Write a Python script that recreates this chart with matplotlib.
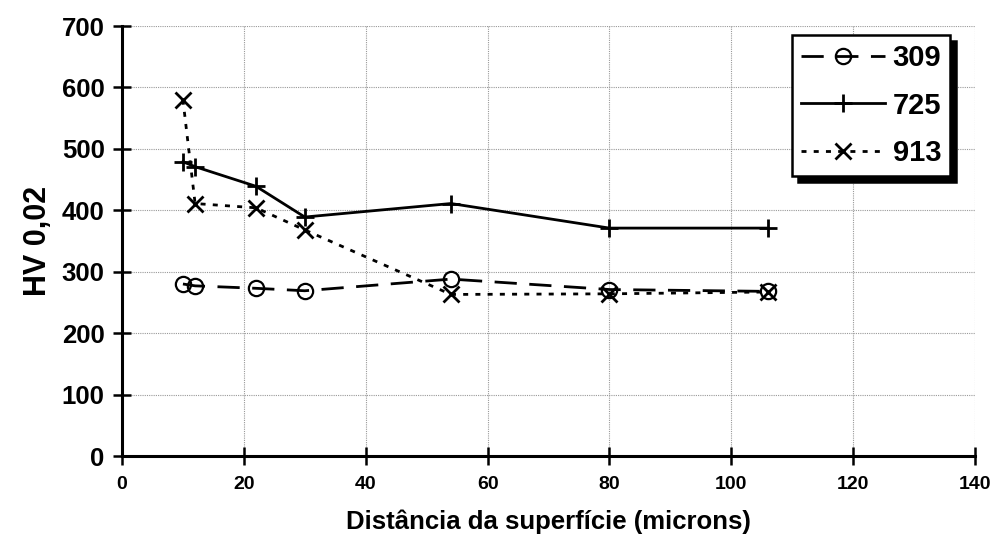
import matplotlib
matplotlib.use("Agg")
import matplotlib.pyplot as plt
from matplotlib.ticker import MultipleLocator

# Data
dist = [10, 12, 22, 30, 54, 80, 106]
hv_309 = [280, 277, 273, 269, 288, 271, 268]
hv_725 = [479, 471, 439, 389, 411, 371, 371]
hv_913 = [580, 411, 404, 368, 263, 264, 267]
series_labels = ["309", "725", "913"]
x_label = "Distância da superfície (microns)"
y_label = "HV 0,02"

plt.rcParams['font.family'] = ['Liberation Sans', 'DejaVu Sans']

fig = plt.figure(figsize=(9.95, 5.44), dpi=100)
ax = fig.add_axes([122/995, 1-456/544, (975-122)/995, (456-26)/544])

ax.plot(dist, hv_309, color='black', lw=2, dashes=(8, 4.5), marker='o',
        ms=11, mfc='none', mec='black', mew=1.6, label=series_labels[0])
ax.plot(dist, hv_725, color='black', lw=2, linestyle='-', marker='+',
        ms=13, mew=2, label=series_labels[1])
ax.plot(dist, hv_913, color='black', lw=2, dashes=(1.8, 2.6), marker='x',
        ms=11, mew=2, label=series_labels[2])

ax.set_xlim(0, 140)
ax.set_ylim(0, 700)
ax.xaxis.set_major_locator(MultipleLocator(20))
ax.yaxis.set_major_locator(MultipleLocator(100))
ax.grid(True, color='#999999', linestyle=(0, (1, 1)), lw=0.8)
ax.set_axisbelow(True)

for s in ['top', 'right']:
    ax.spines[s].set_visible(False)
for s in ['left', 'bottom']:
    ax.spines[s].set_linewidth(2.2)

ax.tick_params(axis='both', direction='inout', length=13, width=1.8)
ax.tick_params(axis='y', labelsize=18.5, pad=6)
ax.tick_params(axis='x', labelsize=14, pad=8)
for lab in ax.get_xticklabels() + ax.get_yticklabels():
    lab.set_fontweight('bold')

ax.set_xlabel(x_label, fontsize=18.5, fontweight='bold', labelpad=12)
ax.set_ylabel(y_label, fontsize=22, fontweight='bold', labelpad=6)

leg = ax.legend(loc='upper right', bbox_to_anchor=(950/995, 1-35/544),
                bbox_transform=fig.transFigure,
                prop={'weight': 'bold', 'size': 21}, frameon=True,
                fancybox=False, edgecolor='black', framealpha=1,
                shadow={'color': 'black', 'alpha': 1, 'ox': 4, 'oy': -4},
                handlelength=2.9, handletextpad=0.25, labelspacing=0.68,
                borderpad=0.3, borderaxespad=0)
leg.get_frame().set_linewidth(1.8)

fig.savefig("out.png", dpi=100)
